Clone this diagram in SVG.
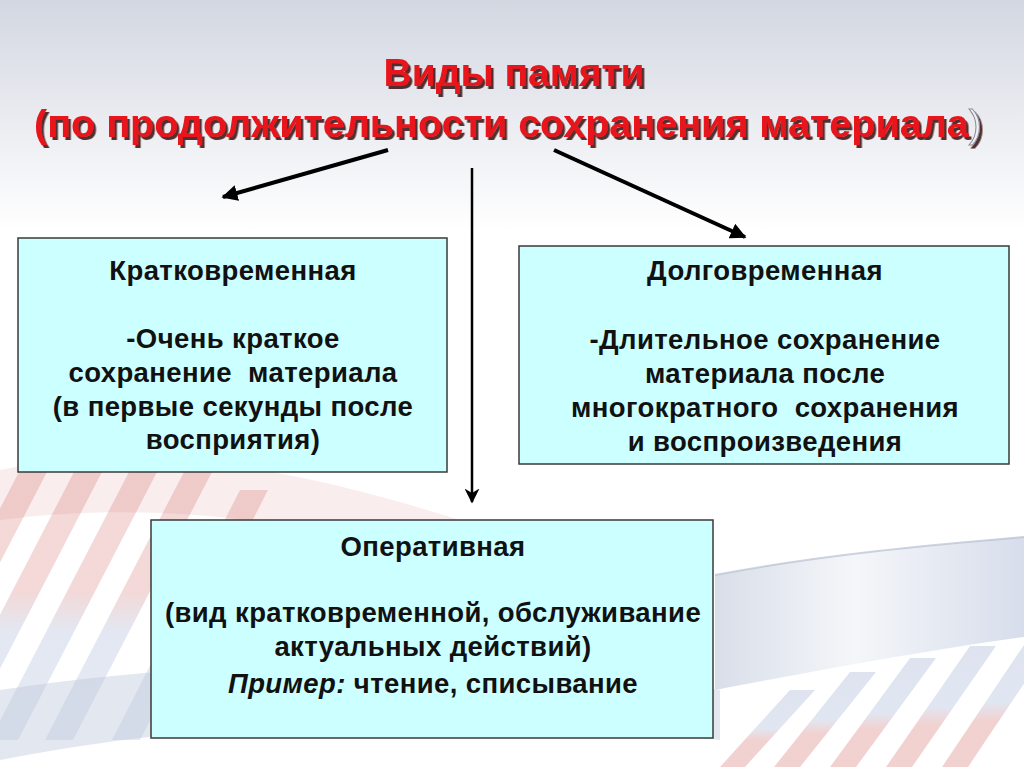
<svg xmlns="http://www.w3.org/2000/svg" width="1024" height="767" viewBox="0 0 1024 767">
  <defs>
    <linearGradient id="bg" x1="0" y1="0" x2="0" y2="1">
      <stop offset="0" stop-color="#d3d7e1"/>
      <stop offset="0.3" stop-color="#ffffff"/>
      <stop offset="1" stop-color="#ffffff"/>
    </linearGradient>
    <linearGradient id="stripe" x1="0" y1="0" x2="0" y2="1">
      <stop offset="0" stop-color="#c9514d"/>
      <stop offset="0.45" stop-color="#c9514d"/>
      <stop offset="0.6" stop-color="#7f93c2"/>
      <stop offset="1" stop-color="#8aa0cc"/>
    </linearGradient>
    <linearGradient id="stripe2" x1="0" y1="0" x2="0" y2="1">
      <stop offset="0" stop-color="#7f93c2"/>
      <stop offset="0.5" stop-color="#8aa0cc"/>
      <stop offset="0.65" stop-color="#c9514d"/>
      <stop offset="1" stop-color="#c9514d"/>
    </linearGradient>
    <linearGradient id="band" x1="0" y1="0" x2="1" y2="0">
      <stop offset="0" stop-color="#cfd6e4"/>
      <stop offset="0.45" stop-color="#f2f4f8"/>
      <stop offset="1" stop-color="#cdd5e6"/>
    </linearGradient>
    <filter id="shadow" x="-5%" y="-20%" width="110%" height="150%">
      <feDropShadow dx="2.5" dy="3" stdDeviation="0.5" flood-color="#2a0606" flood-opacity="0.8"/>
    </filter>
    <marker id="ah" viewBox="0 0 10 10" refX="9" refY="5" markerWidth="4" markerHeight="4" orient="auto" markerUnits="strokeWidth">
      <path d="M0,0 L10,5 L0,10 z" fill="#000"/>
    </marker>
    <marker id="ah2" viewBox="0 0 10 10" refX="9" refY="5" markerWidth="6" markerHeight="6" orient="auto" markerUnits="strokeWidth">
      <path d="M0,0 L10,5 L0,10 L3,5 z" fill="#000"/>
    </marker>
  </defs>
  <style>
    .box { fill: #ccffff; stroke: #3a3a3a; stroke-width: 1.5; }
    .t { font-family: "Liberation Sans", Arial, sans-serif; font-weight: bold; font-size: 27.5px; letter-spacing: 0.4px; fill: #111; text-anchor: middle; }
    .title { font-family: "Liberation Sans", Arial, sans-serif; font-weight: bold; fill: #e8161a; text-anchor: middle; filter: url(#shadow); }
    .conn { stroke: #000; fill: none; }
    .sl { fill: url(#stripe); opacity: 0.22; }
    .sr { fill: url(#stripe2); opacity: 0.26; }
  </style>

  <!-- background -->
  <rect x="0" y="0" width="1024" height="767" fill="url(#bg)"/>
  <g id="decor">
    <path d="M0,470 C150,440 300,470 460,520 L460,560 C300,520 150,500 0,520 z" fill="#c9514d" opacity="0.1"/>
    <polygon class="sl" points="20,470 48,470 -92,740 -120,740"/>
    <polygon class="sl" points="75,470 103,470 -37,740 -65,740"/>
    <polygon class="sl" points="130,470 158,470 18,740 -10,740"/>
    <polygon class="sl" points="185,470 213,470 73,740 45,740"/>
    <polygon class="sl" points="240,490 268,490 140,740 112,740"/>
    <path d="M0,690 C200,660 450,650 720,690 L720,740 C450,710 200,720 0,760 z" fill="#b9c3d6" opacity="0.4"/>
    <path d="M715,575 C820,555 930,545 1024,537 L1024,637 C930,650 820,670 715,690 z" fill="url(#band)" opacity="0.8"/>
    <path d="M715,575 C820,555 930,545 1024,537" fill="none" stroke="#aeb8cc" stroke-width="2" opacity="0.6"/>
    <polygon class="sr" points="790,690 815,690 745,767 720,767"/>
    <polygon class="sr" points="850,672 876,672 800,767 774,767"/>
    <polygon class="sr" points="910,658 936,658 856,767 830,767"/>
    <polygon class="sr" points="970,646 996,646 912,767 886,767"/>
    <polygon class="sr" points="1030,636 1056,636 968,767 942,767"/>
  </g>

  <!-- title -->
  <g id="title">
    <text class="title" x="514" y="86" font-size="39">Виды памяти</text>
    <text class="title" x="508" y="137" font-size="39.5">(по продолжительности сохранения материала<tspan fill="#eef0f4" stroke="#8a8a96" stroke-width="1" font-weight="normal">)</tspan></text>
  </g>

  <!-- connectors -->
  <g id="connectors">
    <line class="conn" x1="388" y1="150" x2="223" y2="197" stroke-width="4" marker-end="url(#ah)"/>
    <line class="conn" x1="554" y1="150" x2="745" y2="237" stroke-width="4" marker-end="url(#ah)"/>
    <line class="conn" x1="472" y1="168" x2="472" y2="502" stroke-width="2.5" marker-end="url(#ah2)"/>
  </g>

  <!-- nodes -->
  <g id="node-short">
    <rect class="box" x="18" y="238" width="429" height="234"/>
    <text class="t" x="233" y="280">Кратковременная</text>
    <text class="t" x="233" y="348">-Очень краткое</text>
    <text class="t" x="233" y="382" xml:space="preserve">сохранение  материала</text>
    <text class="t" x="233" y="416">(в первые секунды после</text>
    <text class="t" x="233" y="449">восприятия)</text>
  </g>

  <g id="node-long">
    <rect class="box" x="519" y="246" width="490" height="218"/>
    <text class="t" x="765" y="280">Долговременная</text>
    <text class="t" x="765" y="349">-Длительное сохранение</text>
    <text class="t" x="765" y="383">материала после</text>
    <text class="t" x="765" y="417" xml:space="preserve">многократного  сохранения</text>
    <text class="t" x="765" y="451">и воспроизведения</text>
  </g>

  <g id="node-operative">
    <rect class="box" x="151" y="520" width="562" height="218"/>
    <text class="t" x="433" y="556">Оперативная</text>
    <text class="t" x="433" y="622">(вид кратковременной, обслуживание</text>
    <text class="t" x="433" y="656">актуальных действий)</text>
    <text class="t" x="433" y="693"><tspan font-style="italic">Пример:</tspan> чтение, списывание</text>
  </g>
</svg>
